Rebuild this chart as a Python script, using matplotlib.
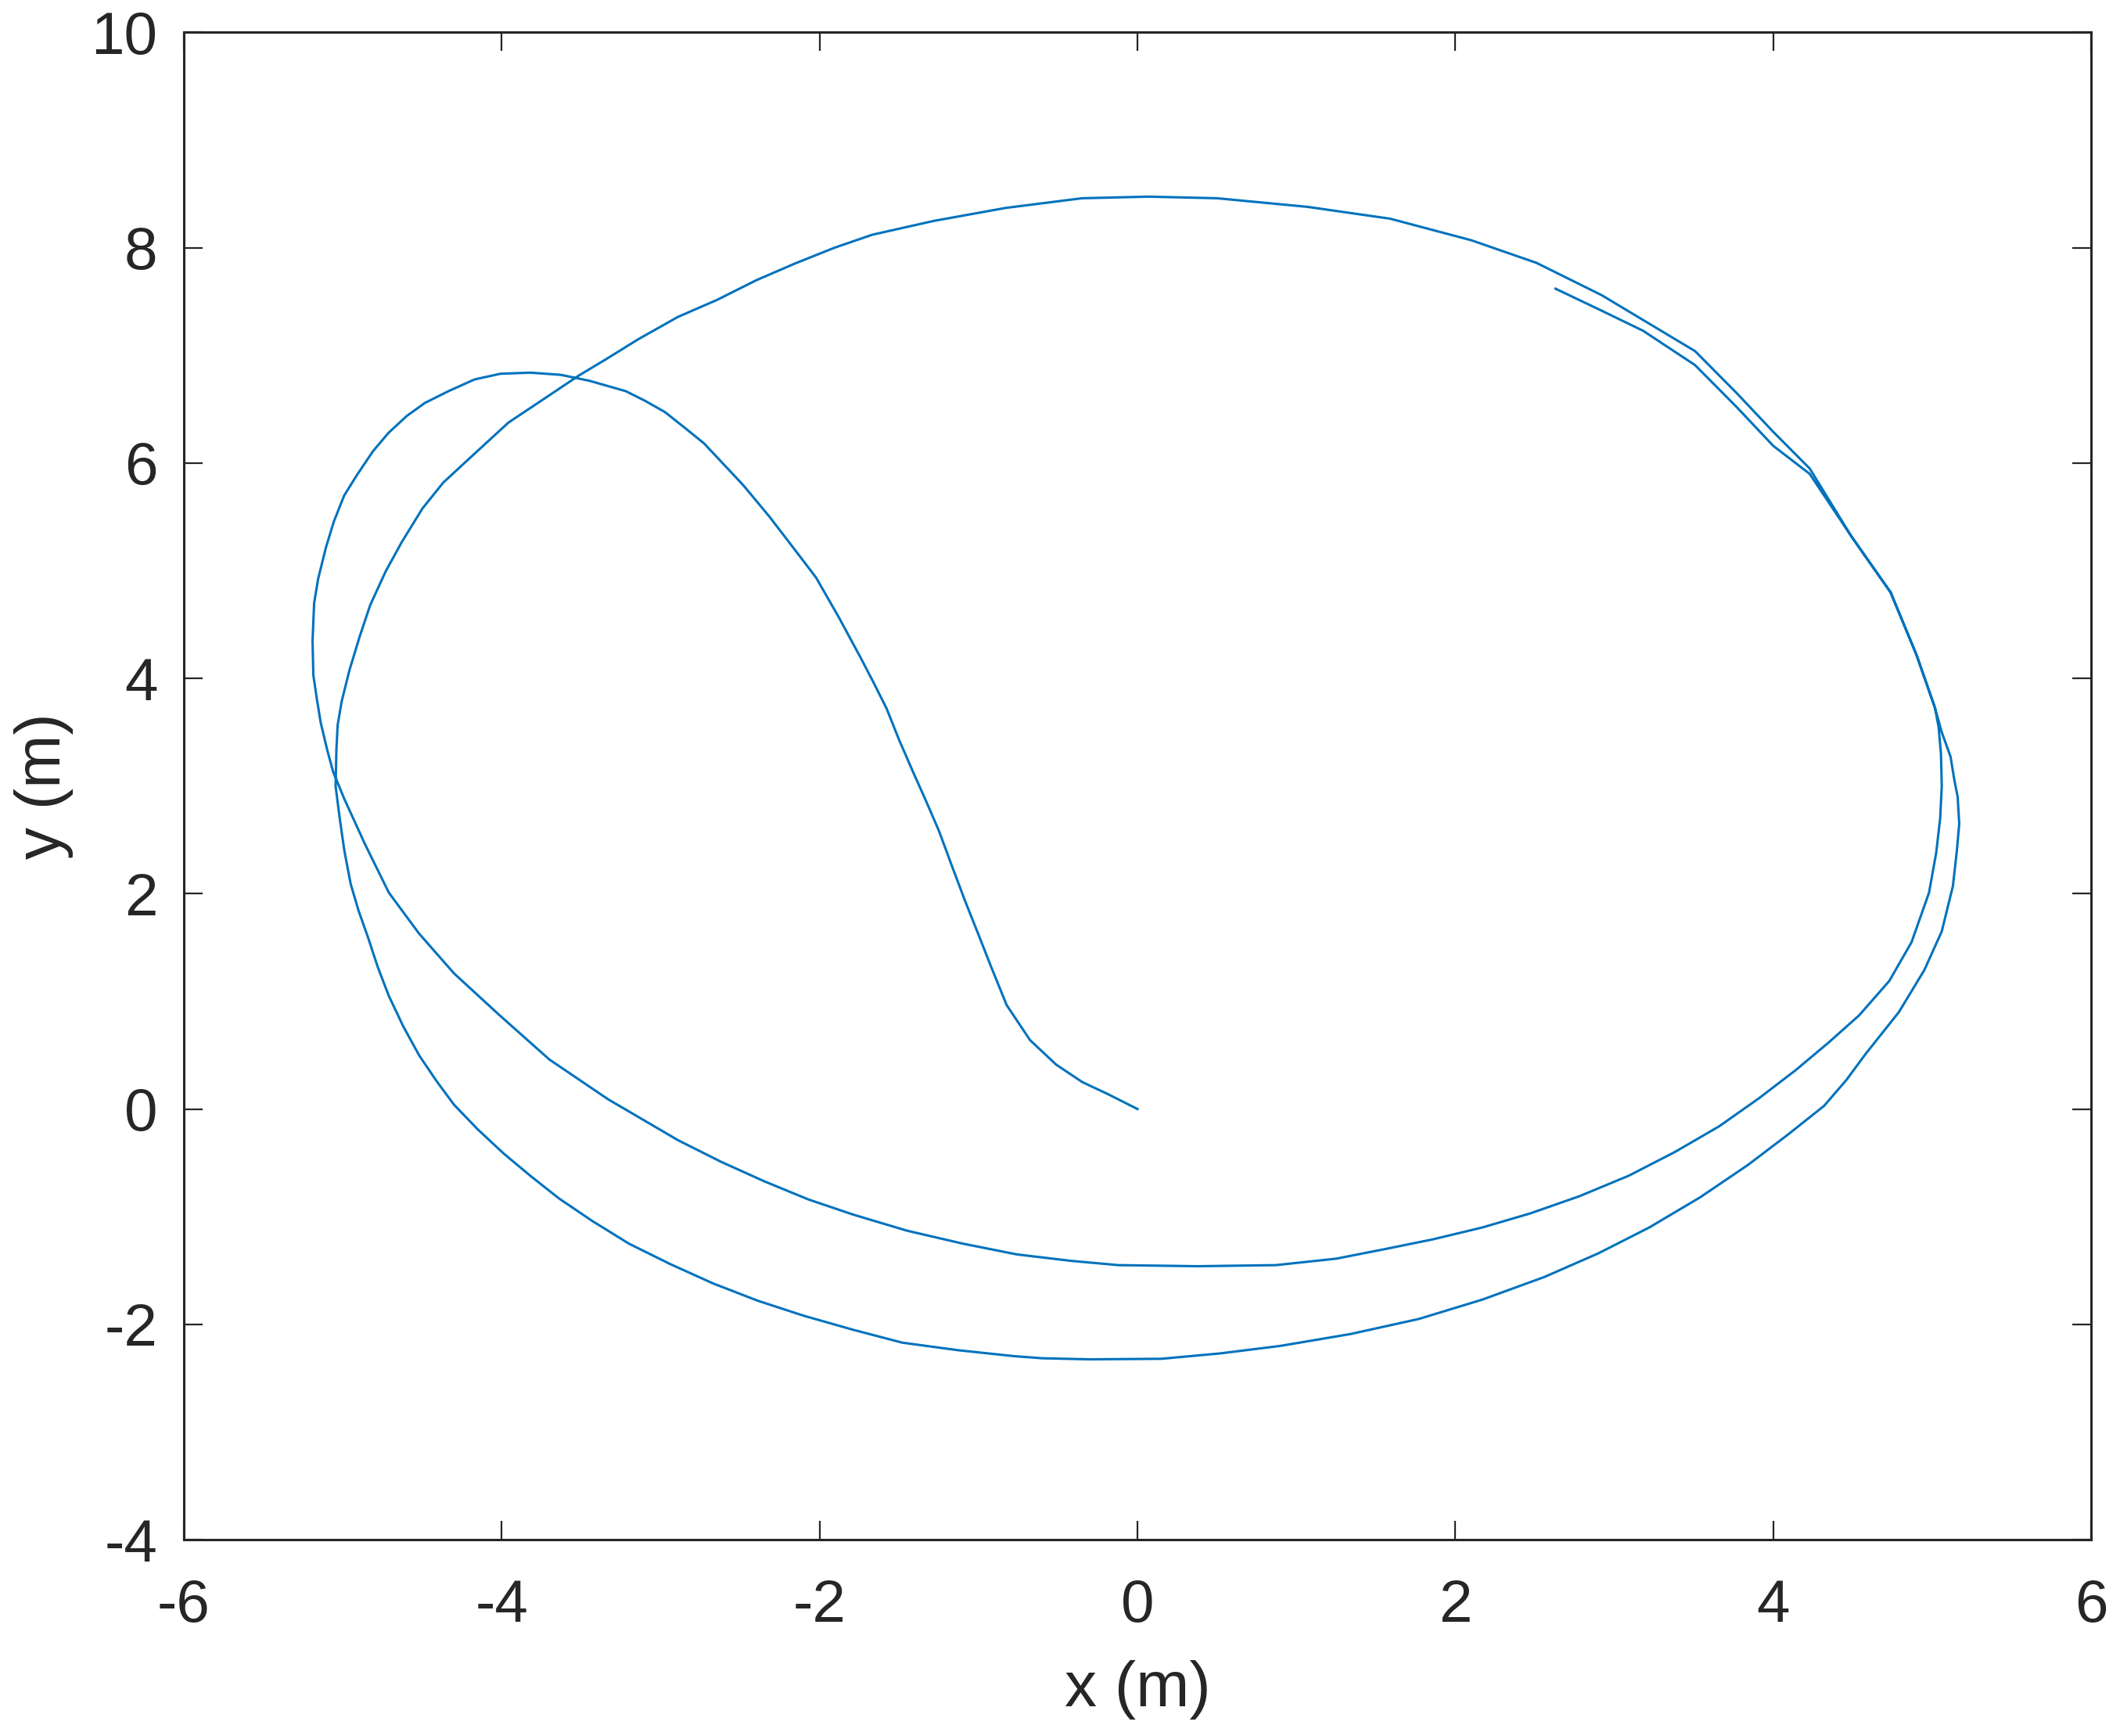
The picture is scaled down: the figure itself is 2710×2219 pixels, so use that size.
import matplotlib
matplotlib.use("Agg")
import matplotlib.pyplot as plt

# trajectory (m), in drawing order
x_m = [0.000, -0.184, -0.348, -0.512, -0.676, -0.823, -0.921, -1.003, -1.086, -1.168,
       -1.250, -1.330, -1.414, -1.500, -1.579, -1.660, -1.742, -1.880, -2.022, -2.153,
       -2.317, -2.481, -2.604, -2.727, -2.850, -2.973, -3.100, -3.219, -3.449, -3.629,
       -3.820, -4.007, -4.171, -4.335, -4.483, -4.597, -4.712, -4.810, -4.909, -4.991,
       -5.056, -5.106, -5.155, -5.180, -5.190, -5.185, -5.163, -5.139, -5.098, -5.060,
       -4.990, -4.860, -4.710, -4.520, -4.300, -4.020, -3.700, -3.330, -2.890, -2.620,
       -2.350, -2.070, -1.790, -1.450, -1.100, -0.760, -0.420, -0.120, 0.380, 0.870,
       1.250, 1.560, 1.860, 2.170, 2.470, 2.780, 3.090, 3.380, 3.660, 3.910,
       4.140, 4.350, 4.540, 4.730, 4.870, 4.980, 5.025, 5.050, 5.060, 5.055,
       5.040, 5.017, 4.902, 4.738, 4.492, 4.229, 4.000, 3.770, 3.508, 3.180,
       2.920, 2.510, 2.100, 1.590, 1.070, 0.500, 0.070, -0.350, -0.830, -1.280,
       -1.669, -1.907, -2.153, -2.399, -2.645, -2.891, -3.138, -3.350, -3.515, -3.711,
       -3.957, -4.171, -4.367, -4.499, -4.630, -4.729, -4.827, -4.893, -4.958, -5.007,
       -5.032, -5.040, -5.045, -5.020, -4.990, -4.950, -4.900, -4.840, -4.780, -4.710,
       -4.620, -4.520, -4.410, -4.300, -4.150, -3.990, -3.820, -3.640, -3.430, -3.200,
       -2.940, -2.670, -2.390, -2.100, -1.790, -1.480, -1.130, -0.780, -0.600, -0.300,
       0.150, 0.520, 0.900, 1.340, 1.770, 2.170, 2.560, 2.900, 3.220, 3.540,
       3.840, 4.090, 4.320, 4.460, 4.580, 4.790, 4.950, 5.060, 5.130, 5.155,
       5.170, 5.160, 5.140, 5.115, 5.060, 5.017, 4.902, 4.738, 4.492, 4.229,
       4.000, 3.770, 3.508, 3.180, 2.900, 2.630]
y_m = [0.000, 0.137, 0.251, 0.413, 0.640, 0.965, 1.322, 1.630, 1.938, 2.260,
       2.587, 2.860, 3.138, 3.430, 3.722, 3.960, 4.193, 4.570, 4.936, 5.190,
       5.505, 5.796, 5.990, 6.183, 6.330, 6.474, 6.580, 6.668, 6.765, 6.820,
       6.840, 6.830, 6.777, 6.668, 6.559, 6.438, 6.281, 6.110, 5.893, 5.699,
       5.457, 5.215, 4.924, 4.700, 4.350, 4.030, 3.810, 3.592, 3.337, 3.130,
       2.880, 2.460, 2.010, 1.630, 1.260, 0.880, 0.460, 0.090, -0.290, -0.490,
       -0.670, -0.840, -0.980, -1.130, -1.250, -1.350, -1.410, -1.450, -1.460, -1.450,
       -1.390, -1.300, -1.210, -1.100, -0.970, -0.810, -0.620, -0.400, -0.160, 0.100,
       0.360, 0.620, 0.870, 1.190, 1.550, 2.010, 2.380, 2.700, 3.000, 3.300,
       3.550, 3.728, 4.215, 4.800, 5.318, 5.950, 6.290, 6.650, 7.040, 7.330,
       7.560, 7.860, 8.070, 8.270, 8.380, 8.460, 8.475, 8.460, 8.370, 8.250,
       8.121, 8.000, 7.855, 7.698, 7.516, 7.358, 7.153, 6.959, 6.813, 6.619,
       6.377, 6.087, 5.820, 5.578, 5.263, 4.997, 4.682, 4.391, 4.076, 3.785,
       3.567, 3.337, 3.000, 2.710, 2.400, 2.090, 1.840, 1.590, 1.320, 1.050,
       0.770, 0.500, 0.260, 0.040, -0.190, -0.410, -0.620, -0.830, -1.040, -1.250,
       -1.440, -1.620, -1.780, -1.920, -2.050, -2.170, -2.240, -2.295, -2.315, -2.325,
       -2.320, -2.270, -2.200, -2.090, -1.950, -1.770, -1.560, -1.340, -1.100, -0.820,
       -0.520, -0.240, 0.030, 0.270, 0.510, 0.900, 1.290, 1.650, 2.070, 2.400,
       2.650, 2.900, 3.050, 3.274, 3.500, 3.728, 4.215, 4.800, 5.318, 5.900,
       6.160, 6.520, 6.910, 7.230, 7.430, 7.620]

x_ticks = [-6, -4, -2, 0, 2, 4, 6]
y_ticks = [-4, -2, 0, 2, 4, 6, 8, 10]

plt.rcParams['font.family'] = ['Liberation Sans', 'DejaVu Sans']
plt.rcParams['axes.unicode_minus'] = False

fig = plt.figure(figsize=(13.55, 11.095), dpi=200)
ax = fig.add_axes([0.0867, 0.1131, 0.8997, 0.8682])

ax.plot(x_m, y_m, color='#0072BD', linewidth=1.1)

ax.set_xlim(-6, 6)
ax.set_ylim(-4, 10)
ax.set_xticks(x_ticks)
ax.set_yticks(y_ticks)
ax.tick_params(direction='in', length=8.5, width=0.8, top=True, right=True,
               labelsize=27.5, colors='#262626')
ax.tick_params(axis='x', pad=18)
ax.tick_params(axis='y', pad=12)
for s in ax.spines.values():
    s.set_linewidth(1.1)
    s.set_color('#262626')

ax.set_xlabel('x (m)', fontsize=29.5, color='#262626', labelpad=12)
ax.set_ylabel('y (m)', fontsize=29.5, color='#262626', labelpad=8)

fig.savefig('out.png', dpi=200)
